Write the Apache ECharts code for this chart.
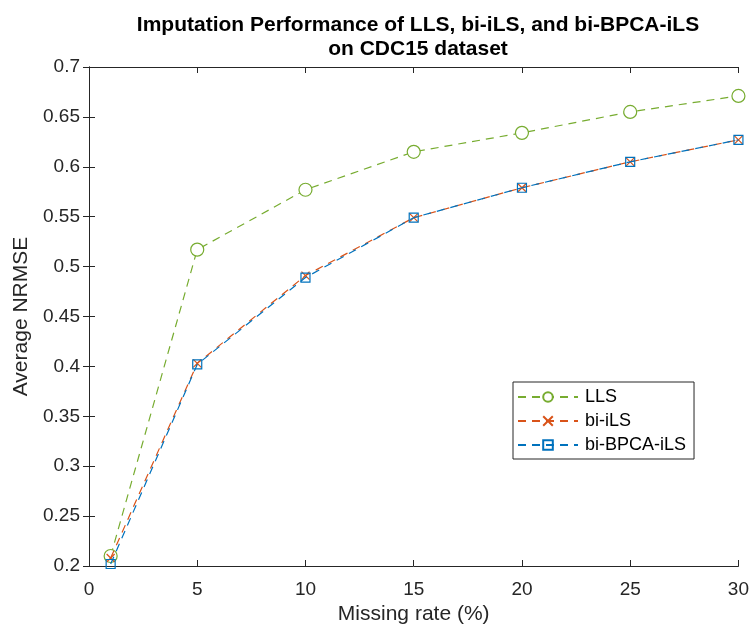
<!DOCTYPE html>
<html>
<head>
<meta charset="utf-8">
<script src="https://cdn.jsdelivr.net/npm/echarts@6/dist/echarts.min.js"></script>
<style>html,body{margin:0;padding:0;background:#fff;}#c{width:752px;height:631px;}</style>
</head>
<body>
<div id="c"></div>
<script>
const missingRates = [1, 5, 10, 15, 20, 25, 30];
const llsValues = [0.210, 0.517, 0.577, 0.615, 0.634, 0.655, 0.671];
const biILSValues = [0.208, 0.403, 0.491, 0.549, 0.579, 0.605, 0.627];
const biBPCAValues = [0.202, 0.402, 0.489, 0.549, 0.579, 0.605, 0.627];
const seriesNames = ['LLS', 'bi-iLS', 'bi-BPCA-iLS'];

const chart = echarts.init(document.getElementById('c'));
const font = 'Liberation Sans, Arial, Helvetica, sans-serif';
const axisLine = {show: true, lineStyle: {color: '#262626', width: 1}};
const tick = {show: true, inside: true, length: 6, lineStyle: {color: '#262626'}};
const pair = arr => missingRates.map((x, i) => [x, arr[i]]);

chart.setOption({
  backgroundColor: '#fff',
  animation: false,
  title: {
    text: 'Imputation Performance of LLS, bi-iLS, and bi-BPCA-iLS\non CDC15 dataset',
    left: 413, top: 8, textAlign: 'center',
    textStyle: {fontFamily: font, fontSize: 21, fontWeight: 'bold', color: '#000', lineHeight: 24}
  },
  grid: {left: 89, right: 12, top: 67, bottom: 65},
  legend: {
    orient: 'vertical',
    left: 513, top: 382,
    padding: [6, 8, 5, 4],
    itemGap: 6,
    itemWidth: 60, itemHeight: 12,
    borderColor: '#262626', borderWidth: 1,
    backgroundColor: '#fff',
    textStyle: {fontFamily: font, fontSize: 18, color: '#000', padding: [0, 0, 0, 2]},
    data: seriesNames
  },
  xAxis: [{
    type: 'value', min: 0, max: 30, interval: 5,
    name: 'Missing rate (%)', nameLocation: 'middle', nameGap: 36,
    nameTextStyle: {fontFamily: font, fontSize: 21, color: '#262626'},
    axisLine: axisLine, axisTick: tick,
    axisLabel: {fontFamily: font, fontSize: 19, color: '#262626', margin: 14},
    splitLine: {show: false}
  }, {
    type: 'value', min: 0, max: 30, interval: 5, position: 'top',
    axisLine: axisLine, axisTick: tick,
    axisLabel: {show: false}, splitLine: {show: false}
  }],
  yAxis: [{
    type: 'value', min: 0.2, max: 0.7, interval: 0.05,
    name: 'Average NRMSE', nameLocation: 'middle', nameGap: 50,
    nameTextStyle: {fontFamily: font, fontSize: 21, color: '#262626'},
    axisLine: axisLine, axisTick: tick,
    axisLabel: {fontFamily: font, fontSize: 19, color: '#262626', margin: 9,
      formatter: v => String(parseFloat(v.toFixed(2)))},
    splitLine: {show: false}
  }, {
    type: 'value', min: 0.2, max: 0.7, interval: 0.05, position: 'right',
    axisLine: axisLine, axisTick: tick,
    axisLabel: {show: false}, splitLine: {show: false}
  }],
  series: [{
    name: seriesNames[0], type: 'line', data: pair(llsValues),
    symbol: 'circle', symbolSize: 13,
    itemStyle: {color: '#fff', borderColor: '#77AC30', borderWidth: 1.2},
    lineStyle: {color: '#77AC30', width: 1.2, type: [8, 6]},
    z: 3
  }, {
    name: seriesNames[1], type: 'line', data: pair(biILSValues),
    symbol: 'path://M0,0L10,10M10,0L0,10', symbolSize: 8,
    itemStyle: {color: 'none', borderColor: '#D95319', borderWidth: 1.2},
    lineStyle: {color: '#D95319', width: 1.2, type: [8, 6]},
    z: 4
  }, {
    name: seriesNames[2], type: 'line', data: pair(biBPCAValues),
    symbol: 'rect', symbolSize: 9,
    itemStyle: {color: 'none', borderColor: '#0072BD', borderWidth: 1.2},
    lineStyle: {color: '#0072BD', width: 1.2, type: [8, 6]},
    z: 5
  }]
});
</script>
</body>
</html>
